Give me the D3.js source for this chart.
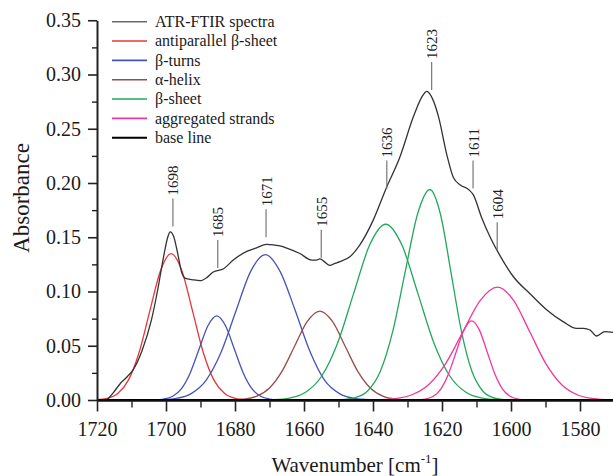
<!DOCTYPE html>
<html>
<head>
<meta charset="utf-8">
<script src="https://cdn.jsdelivr.net/npm/d3@7"></script>
<style>
  html, body { margin: 0; padding: 0; background: #fff; }
  svg { display: block; font-family: "Liberation Serif", "Times New Roman", serif; }
</style>
</head>
<body>
<svg id="chart" width="613" height="476"></svg>
<script>
// ---------- DATA ----------
const xTicks = [1720, 1700, 1680, 1660, 1640, 1620, 1600, 1580];
const xMinorTicks = [1710, 1690, 1670, 1650, 1630, 1610, 1590, 1570];
const yTicks = [0.00, 0.05, 0.10, 0.15, 0.20, 0.25, 0.30, 0.35];
const yMinorTicks = [0.025, 0.075, 0.125, 0.175, 0.225, 0.275, 0.325];

const seriesNames = ["ATR-FTIR spectra", "antiparallel \u03b2-sheet", "\u03b2-turns", "\u03b1-helix", "\u03b2-sheet", "aggregated strands", "base line"];

// measured spectrum [wavenumber, absorbance]
const spectrum = [
  [1717.1,0.000],[1715.2,0.007],[1713.3,0.015],[1711.4,0.021],[1709.5,0.028],[1707.0,0.045],[1704.2,0.074],
  [1702.5,0.100],[1700.7,0.132],[1699.5,0.150],[1698.8,0.155],[1697.8,0.151],[1696.8,0.138],[1695.4,0.117],
  [1694.3,0.112],[1692.5,0.111],[1690.1,0.110],[1688.1,0.113],[1686.3,0.118],[1683.3,0.121],[1680.5,0.129],
  [1676.6,0.137],[1674.0,0.140],[1670.8,0.1435],[1667.0,0.142],[1665.0,0.140],[1661.2,0.135],[1657.8,0.129],
  [1656.4,0.129],[1655.4,0.130],[1654.3,0.128],[1652.5,0.124],[1651.0,0.126],[1649.6,0.1275],[1646.7,0.132],
  [1643.8,0.143],[1639.9,0.166],[1636.2,0.195],[1632.2,0.224],[1628.3,0.261],[1625.9,0.279],[1624.4,0.2845],
  [1622.8,0.278],[1621.0,0.261],[1618.6,0.226],[1616.7,0.205],[1614.6,0.198],[1612.3,0.194],[1610.9,0.189],
  [1608.5,0.168],[1606.1,0.1505],[1603.2,0.133],[1599.3,0.1136],[1594.5,0.098],[1589.6,0.083],[1584.8,0.072],
  [1581.0,0.066],[1579.0,0.066],[1577.1,0.0645],[1575.2,0.059],[1572.8,0.063],[1570.4,0.0624]
];

// fitted component bands [wavenumber, absorbance]
const antiparallel = [
  [1720.2,0.0003],[1717.1,0.0015],[1714.0,0.0059],[1710.9,0.0183],[1707.8,0.0438],[1704.7,0.0819],[1701.6,0.1191],
  [1698.5,0.135],[1695.4,0.1191],[1692.3,0.0819],[1689.2,0.0438],[1686.1,0.0183],[1683.0,0.0059],[1679.9,0.0015],[1676.8,0.0003]
];
const turnsA = [
  [1703.15,0.0002],[1700.6,0.0009],[1698.05,0.0034],[1695.5,0.0105],[1692.95,0.0252],[1690.4,0.0470],[1687.85,0.0684],
  [1685.3,0.0775],[1682.75,0.0684],[1680.2,0.0470],[1677.65,0.0252],[1675.1,0.0105],[1672.55,0.0034],[1670.0,0.0009],[1667.45,0.0002]
];
const turnsB = [
  [1701.3,0.0003],[1697.0,0.0015],[1692.7,0.0059],[1688.4,0.0181],[1684.1,0.0435],[1679.8,0.0813],[1675.5,0.1183],
  [1671.2,0.134],[1666.9,0.1183],[1662.6,0.0830],[1658.3,0.0450],[1654.0,0.0181],[1649.7,0.0059],[1645.4,0.0015],[1641.1,0.0003]
];
const helix = [
  [1680.95,0.0002],[1677.3,0.0009],[1673.65,0.0036],[1670.0,0.0111],[1666.35,0.0266],[1662.7,0.0497],[1659.05,0.0724],
  [1655.4,0.082],[1651.75,0.0724],[1648.1,0.0497],[1644.45,0.0266],[1640.8,0.0111],[1637.15,0.0036],[1633.5,0.0009],[1629.85,0.0002]
];
const sheetA = [
  [1668.85,0.0004],[1664.2,0.0018],[1659.55,0.0071],[1654.9,0.0219],[1650.25,0.0526],[1645.6,0.0983],[1640.95,0.143],
  [1636.3,0.162],[1631.65,0.143],[1627.0,0.0983],[1622.35,0.0526],[1617.7,0.0219],[1613.05,0.0071],[1608.4,0.0018],[1603.75,0.0004]
];
const sheetB = [
  [1648.7,0.0004],[1645.1,0.0022],[1641.5,0.0085],[1637.9,0.0262],[1634.3,0.063],[1630.7,0.1177],[1627.1,0.1712],
  [1623.5,0.194],[1620.45,0.1712],[1617.4,0.1177],[1614.35,0.063],[1611.3,0.0262],[1608.25,0.0085],[1605.2,0.0022],[1602.15,0.0004]
];
const aggregatedA = [
  [1627.15,0.0002],[1624.9,0.0008],[1622.65,0.0032],[1620.4,0.0099],[1618.15,0.0237],[1615.9,0.0443],[1613.65,0.0644],
  [1611.4,0.073],[1609.15,0.0644],[1606.9,0.0443],[1604.65,0.0237],[1602.4,0.0099],[1600.15,0.0032],[1597.9,0.0008],[1595.65,0.0002]
];
const aggregatedB = [
  [1638.9,0.0002],[1633.9,0.0012],[1628.9,0.0046],[1623.9,0.0141],[1618.9,0.0338],[1613.9,0.0631],[1608.9,0.0918],
  [1603.9,0.104],[1599.25,0.0918],[1594.6,0.0631],[1589.95,0.0338],[1585.3,0.0141],[1580.65,0.0046],[1576.0,0.0012],[1571.35,0.0002]
];
const baseLine = [[1720,0],[1570,0]];

// peak annotations: wavenumber and absorbance where the leader line ends
const peakLabels = [1698, 1685, 1671, 1655, 1636, 1623, 1611, 1604];
const peakLabelBase = [0.160, 0.1217, 0.150, 0.131, 0.195, 0.2857, 0.195, 0.138];

// ---------- CHART ----------
const svg = d3.select("#chart");
const mLeft = 97, mRight = 614.5, mTop = 20.25, mBottom = 400;
const x = d3.scaleLinear().domain([1720, 1570]).range([mLeft, mRight]);
const y = d3.scaleLinear().domain([0, 0.35]).range([mBottom, mTop]);

const colors = {
  spectrum: "#333333", legendSpectrum: "#6a6a6a",
  red: "#e8343a", blue: "#4652b4", brown: "#9a4a4a", green: "#22a85c", pink: "#f0389a", base: "#000000"
};

svg.append("defs").append("clipPath").attr("id", "plotclip")
  .append("rect").attr("x", mLeft).attr("y", 0).attr("width", 613 - mLeft).attr("height", mBottom + 1);

const smooth = d3.line().x(d => x(d[0])).y(d => y(d[1])).curve(d3.curveMonotoneX);

const plot = svg.append("g").attr("clip-path", "url(#plotclip)");

const comps = [
  [antiparallel, colors.red], [turnsA, colors.blue], [turnsB, colors.blue], [helix, colors.brown],
  [sheetA, colors.green], [sheetB, colors.green], [aggregatedA, colors.pink], [aggregatedB, colors.pink]
];
comps.forEach(([data, c]) => {
  plot.append("path").datum(data).attr("d", smooth).attr("fill", "none")
    .attr("stroke", c).attr("stroke-width", 1.3);
});
plot.append("path").datum(spectrum).attr("d", smooth).attr("fill", "none")
  .attr("stroke", colors.spectrum).attr("stroke-width", 1.3);

// base line
svg.append("path").datum(baseLine).attr("d", d3.line().x(d => x(d[0])).y(d => y(d[1])))
  .attr("stroke", colors.base).attr("stroke-width", 2.2);

// axes
const xAxis = svg.append("g").attr("transform", `translate(0,${mBottom + 0.5})`)
  .call(d3.axisBottom(x).tickValues(xTicks).tickFormat(d3.format("d")).tickSizeInner(11).tickSizeOuter(0).tickPadding(10));
xAxis.select(".domain").attr("stroke", "#111").attr("stroke-width", 1.6);
xAxis.selectAll(".tick line").attr("stroke", "#222").attr("stroke-width", 1.6);
xAxis.selectAll("text").attr("font-size", 20).attr("fill", "#1a1a1a").attr("font-family", "Liberation Serif, serif");
svg.append("g").attr("transform", `translate(0,${mBottom + 0.5})`)
  .call(d3.axisBottom(x).tickValues(xMinorTicks.filter(v => x(v) <= 613)).tickFormat("").tickSizeInner(7).tickSizeOuter(0))
  .call(g => g.select(".domain").remove())
  .selectAll(".tick line").attr("stroke", "#222").attr("stroke-width", 1.4);

const yAxis = svg.append("g").attr("transform", `translate(${mLeft},0)`)
  .call(d3.axisLeft(y).tickValues(yTicks).tickFormat(d3.format(".2f")).tickSizeInner(9).tickSizeOuter(0).tickPadding(7));
yAxis.select(".domain").attr("stroke", "#222").attr("stroke-width", 2);
yAxis.selectAll(".tick line").attr("stroke", "#222").attr("stroke-width", 1.6);
yAxis.selectAll("text").attr("font-size", 20).attr("fill", "#1a1a1a").attr("font-family", "Liberation Serif, serif");
svg.append("g").attr("transform", `translate(${mLeft},0)`)
  .call(d3.axisLeft(y).tickValues(yMinorTicks).tickFormat("").tickSizeInner(5).tickSizeOuter(0))
  .call(g => g.select(".domain").remove())
  .selectAll(".tick line").attr("stroke", "#222").attr("stroke-width", 1.4);

// axis titles
svg.append("text").attr("transform", `translate(28.5,198) rotate(-90)`)
  .attr("text-anchor", "middle").attr("font-size", 23).attr("fill", "#1a1a1a").text("Absorbance");
const xt = svg.append("text").attr("x", 355).attr("y", 471.5).attr("text-anchor", "middle")
  .attr("font-size", 21).attr("fill", "#1a1a1a");
xt.append("tspan").text("Wavenumber [cm");
xt.append("tspan").attr("font-size", 13).attr("dy", -9).text("-1");
xt.append("tspan").attr("dy", 9).text("]");

// peak labels
peakLabels.forEach((p, i) => {
  const px = x(p), py = y(peakLabelBase[i]);
  svg.append("line").attr("x1", px).attr("x2", px).attr("y1", py).attr("y2", py - 28)
    .attr("stroke", "#777").attr("stroke-width", 1.2);
  svg.append("text").attr("transform", `translate(${px + 5.5},${py - 31}) rotate(-90)`)
    .attr("font-size", 15).attr("fill", "#222").attr("text-anchor", "start").text(p);
});

// legend
const legendColors = [colors.legendSpectrum, colors.red, colors.blue, colors.brown, colors.green, colors.pink, colors.base];
const lg = svg.append("g");
seriesNames.forEach((name, i) => {
  const cy = 21.7 + i * 19.33;
  lg.append("line").attr("x1", 112).attr("x2", 147).attr("y1", cy).attr("y2", cy)
    .attr("stroke", legendColors[i]).attr("stroke-width", i === 6 ? 2 : 1.6);
  lg.append("text").attr("x", 155).attr("y", cy + 5.3).attr("font-size", 16).attr("fill", "#1a1a1a").text(name);
});
</script>
</body>
</html>
